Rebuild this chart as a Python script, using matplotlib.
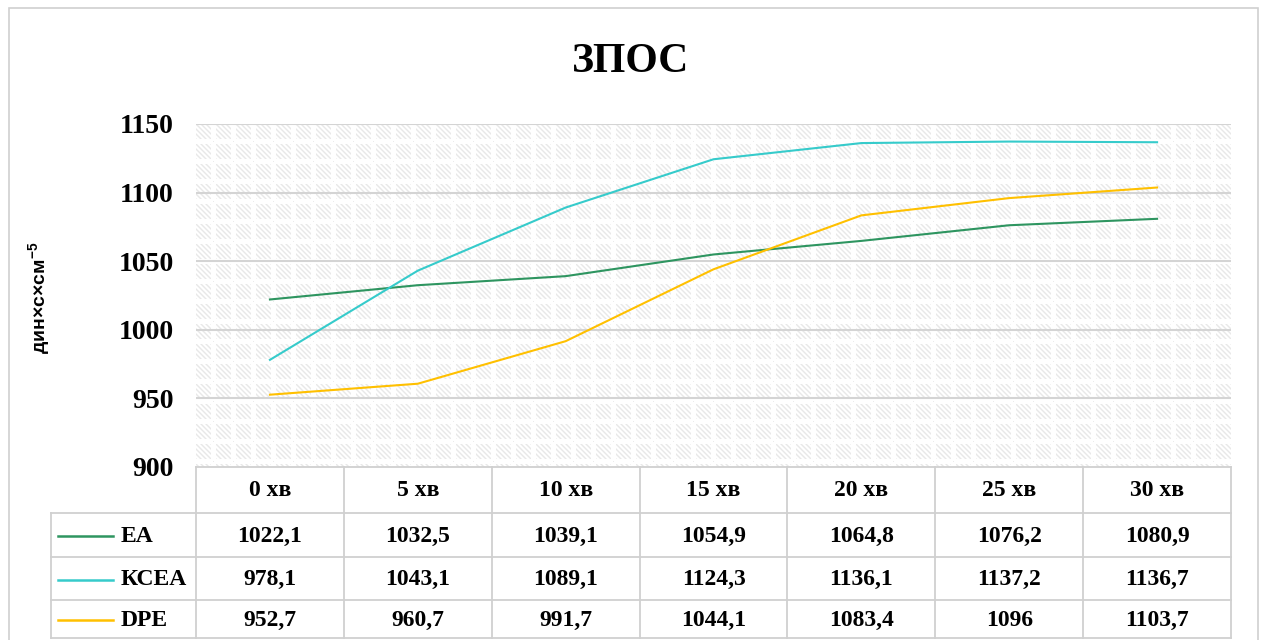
import numpy as np
import matplotlib
matplotlib.use("Agg")
import matplotlib.pyplot as plt
from matplotlib.patches import Rectangle

plt.rcParams['font.family'] = ['Liberation Serif', 'DejaVu Serif']
plt.rcParams['font.weight'] = 'bold'
plt.rcParams['mathtext.fontset'] = 'custom'
plt.rcParams['mathtext.rm'] = 'Liberation Sans:bold'
plt.rcParams['mathtext.default'] = 'rm'

# data
times = ['0 хв', '5 хв', '10 хв', '15 хв', '20 хв', '25 хв', '30 хв']
ea = [1022.1, 1032.5, 1039.1, 1054.9, 1064.8, 1076.2, 1080.9]
ksea = [978.1, 1043.1, 1089.1, 1124.3, 1136.1, 1137.2, 1136.7]
dpe = [952.7, 960.7, 991.7, 1044.1, 1083.4, 1096, 1103.7]
series_names = ['EA', 'КСЕА', 'DPE']
series_vals = [ea, ksea, dpe]
series_colors = ['#2e9560', '#36cbcb', '#ffc000']

W, H = 1262, 640
fig = plt.figure(figsize=(W / 100, H / 100), dpi=100)

def fx(px):
    return px / W

def fy(py):
    return 1 - py / H

# outer frame
fig.patches.append(Rectangle((fx(9), fy(645)), fx(1258) - fx(9), fy(8) - fy(645),
                             transform=fig.transFigure, fill=False,
                             edgecolor='#d0d0d0', linewidth=1.2))

left, right, top, bot = 196, 1231, 124, 467
ax = fig.add_axes([fx(left), fy(bot), fx(right) - fx(left), fy(top) - fy(bot)])
ax.set_yticks(np.arange(900, 1151, 50))
ax.tick_params(axis='y', length=0, labelsize=20, pad=16)
for lab in ax.get_yticklabels():
    lab.set_fontfamily('Liberation Serif')
    lab.set_fontweight('bold')
ax.set_xticks([])
for s in ax.spines.values():
    s.set_visible(False)

# patterned plot-area fill: blocks of short downward diagonals
tile = np.ones((20, 20))
for i in range(20):
    for j in range(20):
        if i < 15 and j < 15:
            d = (j - i) % 5
            if d == 0:
                tile[i, j] = 0.91
            elif d in (1, 4):
                tile[i, j] = 0.955
        if i == 17 and j == 17:
            tile[i, j] = 0.92
pw, ph = right - left, bot - top
pattern = np.tile(tile, (ph // 20 + 1, pw // 20 + 1))[:ph, :pw]
ax.imshow(pattern, cmap='gray', vmin=0, vmax=1, interpolation='nearest',
          extent=(0, 1, 0, 1), transform=ax.transAxes, aspect='auto', zorder=0)
ax.set_xlim(-0.5, 6.5)
ax.set_ylim(900, 1150)
for yv in np.arange(950, 1151, 50):
    ax.axhline(yv, color='#d4d4d4', linewidth=1.5, zorder=1)

x = np.arange(len(times))
for vals, c in zip(series_vals, series_colors):
    ax.plot(x, vals, color=c, linewidth=1.5, zorder=3)

ax.set_ylabel('дин×с×см$^{-5}$', fontfamily='Liberation Sans', fontsize=14,
              fontweight='bold')
ax.yaxis.set_label_coords((52 - left) / (right - left), (467 - 298) / (bot - top))

fig.text(0.5, fy(62), 'ЗПОС', ha='center', va='center', fontsize=30,
         fontweight='bold', fontfamily='Liberation Serif')

# data table under the axis
tleft = 51
colw = (right - left) / len(times)
tax = fig.add_axes([fx(tleft), fy(H), fx(right) - fx(tleft), fy(bot) - fy(H)])
tax.set_xlim(-0.5 - (left - tleft) / colw, 6.5)
tax.set_ylim(H - bot, 0)
tax.axis('off')

rows = [0, 46, 90, 133, 171]
gc = '#d0d0d0'
xl = tax.get_xlim()[0]
tax.plot([-0.5, 6.5], [rows[0], rows[0]], color=gc, lw=1.3, clip_on=False)
for r in rows[1:]:
    tax.plot([xl, 6.5], [r, r], color=gc, lw=1.3, clip_on=False)
for i in range(len(times) + 1):
    tax.plot([i - 0.5, i - 0.5], [rows[0], rows[-1]], color=gc, lw=1.3, clip_on=False)
tax.plot([xl, xl], [rows[1], rows[-1]], color=gc, lw=1.3, clip_on=False)

tfont = dict(fontsize=17, fontweight='bold', fontfamily='Liberation Serif')
for i, t in enumerate(times):
    tax.text(i, (rows[0] + rows[1]) / 2 + 1, t, ha='center', va='center', **tfont)

for k, (name, vals, c) in enumerate(zip(series_names, series_vals, series_colors)):
    yc = (rows[k + 1] + rows[k + 2]) / 2 + 1
    tax.plot([xl + 0.05, xl + 0.42], [yc, yc], color=c, lw=1.8, clip_on=False)
    tax.text(xl + 0.47, yc, name, ha='left', va='center', **tfont)
    for i, v in enumerate(vals):
        s = f'{v:g}'.replace('.', ',')
        tax.text(i, yc, s, ha='center', va='center', **tfont)

fig.savefig('out.png', dpi=100)
